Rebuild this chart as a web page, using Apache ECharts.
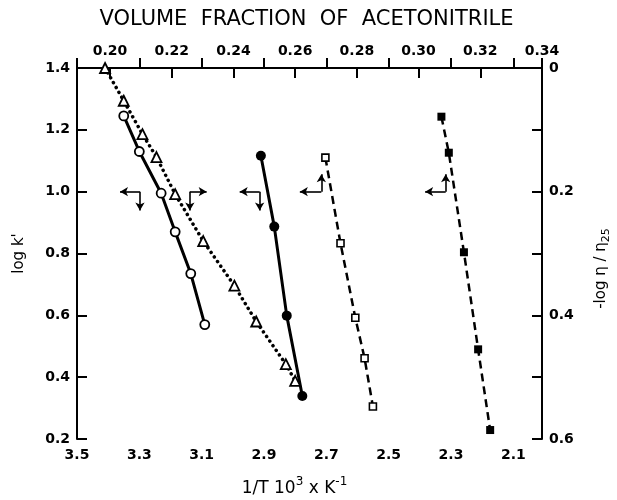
<!DOCTYPE html>
<html>
<head>
<meta charset="utf-8">
<script src="https://cdn.jsdelivr.net/npm/echarts@6/dist/echarts.min.js"></script>
<style>html,body{margin:0;padding:0;background:#fff}#chart{width:617px;height:500px}</style>
</head>
<body>
<div id="chart"></div>
<script>
// open circles: log k' vs 1/T
var circleT = [3.35, 3.30, 3.23, 3.185, 3.135, 3.09];
var circleK = [1.245, 1.13, 0.995, 0.87, 0.735, 0.57];
// open triangles: -log(eta/eta25) vs 1/T
var triT = [3.41, 3.35, 3.29, 3.245, 3.185, 3.095, 2.995, 2.925, 2.83, 2.8];
var triEta = [0, 0.053, 0.107, 0.144, 0.204, 0.28, 0.352, 0.41, 0.479, 0.506];
// filled circles: log k' vs 1/T
var dotT = [2.91, 2.867, 2.827, 2.777];
var dotK = [1.116, 0.887, 0.599, 0.339];
// open squares: log k' vs volume fraction
var sqPhi = [0.2698, 0.2747, 0.2795, 0.2825, 0.2852];
var sqK = [1.11, 0.833, 0.592, 0.461, 0.305];
// filled squares: log k' vs volume fraction
var bsqPhi = [0.3074, 0.3098, 0.3147, 0.3193, 0.3232];
var bsqK = [1.2425, 1.126, 0.804, 0.49, 0.229];

// axis arrows (corner 1/T, end of horizontal arm 1/T, end of vertical arm log k')
var arrowK = 1.0;
var arrowT = [3.298, 3.138, 2.914, 2.716, 2.317];
var arrowHT = [3.362, 3.084, 2.978, 2.785, 2.383];
var arrowVK = [0.939, 0.939, 0.939, 1.056, 1.056];

// axes: bottom 3.5 -> ~2.008, top 0.34 on the right
var T_MAX = 3.5, T_SPAN = 1.492;
var PHI_MAX = 0.34, PHI_SPAN = 0.1507;

function tx(t) { return +(T_MAX - t).toFixed(4); }
function px(p) { return +(PHI_MAX - p).toFixed(4); }
function pts(xs, ys, f) {
    var out = [];
    for (var i = 0; i < xs.length; i++) out.push([f ? f(xs[i]) : xs[i], ys[i]]);
    return out;
}
function onStep(v, step) {
    var k = v / step;
    return Math.abs(k - Math.round(k)) < 1e-6;
}

var arrowLines = [];
for (var i = 0; i < arrowT.length; i++) {
    arrowLines.push([{ coord: [tx(arrowT[i]), arrowK] }, { coord: [tx(arrowHT[i]), arrowK] }]);
    arrowLines.push([{ coord: [tx(arrowT[i]), arrowK] }, { coord: [tx(arrowT[i]), arrowVK[i]] }]);
}

var font = 'DejaVu Sans';
var axisCommon = {
    axisLine: { lineStyle: { color: '#000', width: 2 } },
    axisTick: { inside: true, length: 10, lineStyle: { color: '#000', width: 2 } },
    splitLine: { show: false },
    axisLabel: { color: '#000', fontFamily: font, fontSize: 14, fontWeight: 'bold' },
    nameTextStyle: { color: '#000', fontFamily: font }
};
function ax(o) {
    var r = JSON.parse(JSON.stringify(axisCommon));
    for (var k in o) {
        if (typeof o[k] === 'object' && r[k] && !Array.isArray(o[k])) {
            for (var j in o[k]) r[k][j] = o[k][j];
        } else r[k] = o[k];
    }
    return r;
}

var myChart = echarts.init(document.getElementById('chart'));

option = {
    animation: false,
    backgroundColor: '#fff',
    grid: { left: 77, right: 75, top: 68, bottom: 61, outerBoundsMode: 'none', containLabel: false },
    xAxis: [
        ax({
            type: 'value', position: 'bottom', min: 0, max: T_SPAN, interval: 0.2,
            name: '1/T 10{sup|3} x K{sup|-1}', nameLocation: 'middle', nameGap: 37,
            nameTextStyle: {
                fontSize: 17, padding: [0, 30, 0, 0],
                rich: { sup: { fontSize: 12, fontFamily: font, color: '#000', padding: [0, 0, 14, 0] } }
            },
            axisLabel: {
                margin: 9,
                formatter: function (v) { return onStep(v, 0.2) ? (T_MAX - v).toFixed(1) : ''; }
            }
        }),
        ax({
            type: 'value', position: 'top', inverse: true, min: 0, max: PHI_SPAN, interval: 0.02,
            name: 'VOLUME  FRACTION  OF  ACETONITRILE', nameLocation: 'middle', nameGap: 38,
            nameTextStyle: { fontSize: 21, padding: [0, 6, 0, 0] },
            axisLabel: {
                margin: 10,
                formatter: function (v) { return onStep(v, 0.02) ? (PHI_MAX - v).toFixed(2) : ''; }
            }
        })
    ],
    yAxis: [
        ax({
            type: 'value', position: 'left', min: 0.2, max: 1.4, interval: 0.2,
            name: "log k'", nameLocation: 'middle', nameGap: 50,
            nameTextStyle: { fontSize: 15 },
            axisLabel: { margin: 7, formatter: function (v) { return v.toFixed(1); } }
        }),
        ax({
            type: 'value', position: 'right', inverse: true, min: 0, max: 0.6, interval: 0.1,
            name: '-log η / η{sub|25}', nameLocation: 'middle', nameGap: 49, nameRotate: 90,
            nameTextStyle: {
                fontSize: 15, padding: [0, 30, 0, 0],
                rich: { sub: { fontSize: 11, fontFamily: font, color: '#000', padding: [10, 0, 0, 0] } }
            },
            axisLabel: {
                margin: 7,
                formatter: function (v) {
                    if (!onStep(v, 0.2)) return '';
                    return v === 0 ? '0' : v.toFixed(1);
                }
            }
        })
    ],
    series: [
        {
            name: 'open circles', type: 'line', xAxisIndex: 0, yAxisIndex: 0,
            data: pts(circleT, circleK, tx),
            symbol: 'circle', symbolSize: 9,
            itemStyle: { color: '#fff', borderColor: '#000', borderWidth: 1.8 },
            lineStyle: { color: '#000', width: 3 },
            markLine: {
                silent: true, symbol: ['none', 'arrow'], symbolSize: [7, 8],
                label: { show: false },
                lineStyle: { color: '#000', width: 1.6, type: 'solid' },
                data: arrowLines
            }
        },
        {
            name: 'triangles', type: 'line', xAxisIndex: 0, yAxisIndex: 1,
            data: pts(triT, triEta, tx),
            symbol: 'triangle', symbolSize: [10, 10],
            itemStyle: { color: '#fff', borderColor: '#000', borderWidth: 1.8 },
            lineStyle: { color: '#000', width: 3.5, type: [0.1, 5.5], cap: 'round' }
        },
        {
            name: 'filled circles', type: 'line', xAxisIndex: 0, yAxisIndex: 0,
            data: pts(dotT, dotK, tx),
            symbol: 'circle', symbolSize: 10,
            itemStyle: { color: '#000' },
            lineStyle: { color: '#000', width: 3 }
        },
        {
            name: 'open squares', type: 'line', xAxisIndex: 1, yAxisIndex: 0,
            data: pts(sqPhi, sqK, px),
            symbol: 'rect', symbolSize: 7,
            itemStyle: { color: '#fff', borderColor: '#000', borderWidth: 1.6 },
            lineStyle: { color: '#000', width: 2.5, type: [8, 5] }
        },
        {
            name: 'filled squares', type: 'line', xAxisIndex: 1, yAxisIndex: 0,
            data: pts(bsqPhi, bsqK, px),
            symbol: 'rect', symbolSize: 8,
            itemStyle: { color: '#000' },
            lineStyle: { color: '#000', width: 2.5, type: [8, 5] }
        }
    ]
};
myChart.setOption(option);
</script>
</body>
</html>
